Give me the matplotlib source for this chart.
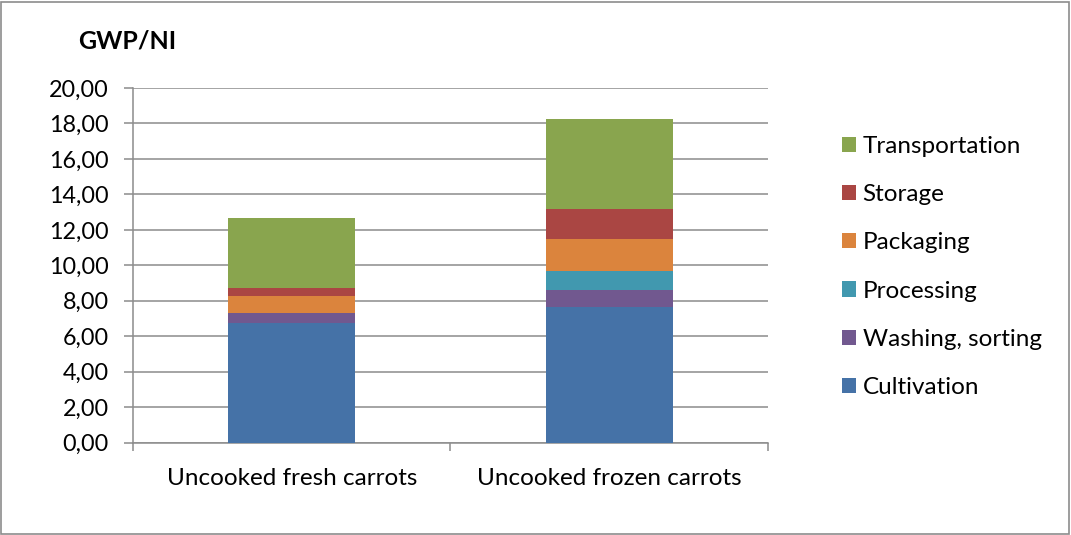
import matplotlib.pyplot as plt
import numpy as np

plt.rcParams['font.family'] = ['Lato', 'DejaVu Sans']

categories = ['Uncooked fresh carrots', 'Uncooked frozen carrots']
stages = ['Cultivation', 'Washing, sorting', 'Processing', 'Packaging', 'Storage', 'Transportation']
cultivation = [6.73, 7.63]
washing = [0.60, 0.99]
processing = [0.00, 1.04]
packaging = [0.92, 1.82]
storage = [0.49, 1.69]
transportation = [3.94, 5.08]
colors = ['#4572A7', '#71588F', '#4198AF', '#DB843D', '#AA4643', '#89A54E']

series = [cultivation, washing, processing, packaging, storage, transportation]

fig = plt.figure(figsize=(10.71, 5.35), dpi=100)
ax = fig.add_axes([0.1242, 0.1725, 0.717 - 0.1242, 0.8355 - 0.1725])

x = np.arange(len(categories))
bottom = np.zeros(len(categories))
handles = []
for vals, name, c in zip(series, stages, colors):
    h = ax.bar(x, vals, width=0.4, bottom=bottom, color=c, label=name, zorder=3)
    handles.append(h)
    bottom += np.array(vals)

ax.set_xlim(-0.5, 1.5)
ax.set_ylim(0, 20)
ax.set_yticks(np.arange(0, 21, 2))
ax.set_yticklabels([f'{v:.2f}'.replace('.', ',') for v in np.arange(0, 21, 2)], fontsize=16.8)
ax.yaxis.grid(True, color='#8c8c8c', linewidth=1.1, zorder=0)

ax.set_xticks([-0.5, 0.5, 1.5])
ax.set_xticklabels([])
ax.set_xticks(x, minor=True)
ax.set_xticklabels(categories, minor=True, fontsize=17.5)
ax.tick_params(axis='x', which='minor', length=0, pad=18)
ax.tick_params(axis='x', which='major', length=6, color='#8c8c8c', width=1.1)
ax.tick_params(axis='y', length=6.5, pad=11, color='#8c8c8c', width=1.1)

for s in ['top', 'right']:
    ax.spines[s].set_visible(False)
for s in ['left', 'bottom']:
    ax.spines[s].set_color('#8c8c8c')
    ax.spines[s].set_linewidth(1.1)

fig.text(0.073, 0.923, 'GWP/NI', fontsize=18, fontweight='bold', va='center', ha='left')

fig.legend(handles[::-1], stages[::-1], loc='center left', bbox_to_anchor=(0.786, 0.501),
           bbox_transform=fig.transFigure, frameon=False, fontsize=17.5,
           handlelength=0.58, handleheight=0.58, handletextpad=0.28,
           labelspacing=1.12, borderpad=0, borderaxespad=0)

# thin frame around the whole figure
fig.patches.append(plt.Rectangle((0.001, 0.002), 0.997, 0.995, transform=fig.transFigure,
                                 fill=False, edgecolor='#8c8c8c', linewidth=1.2))

fig.savefig('out.png', dpi=100)
